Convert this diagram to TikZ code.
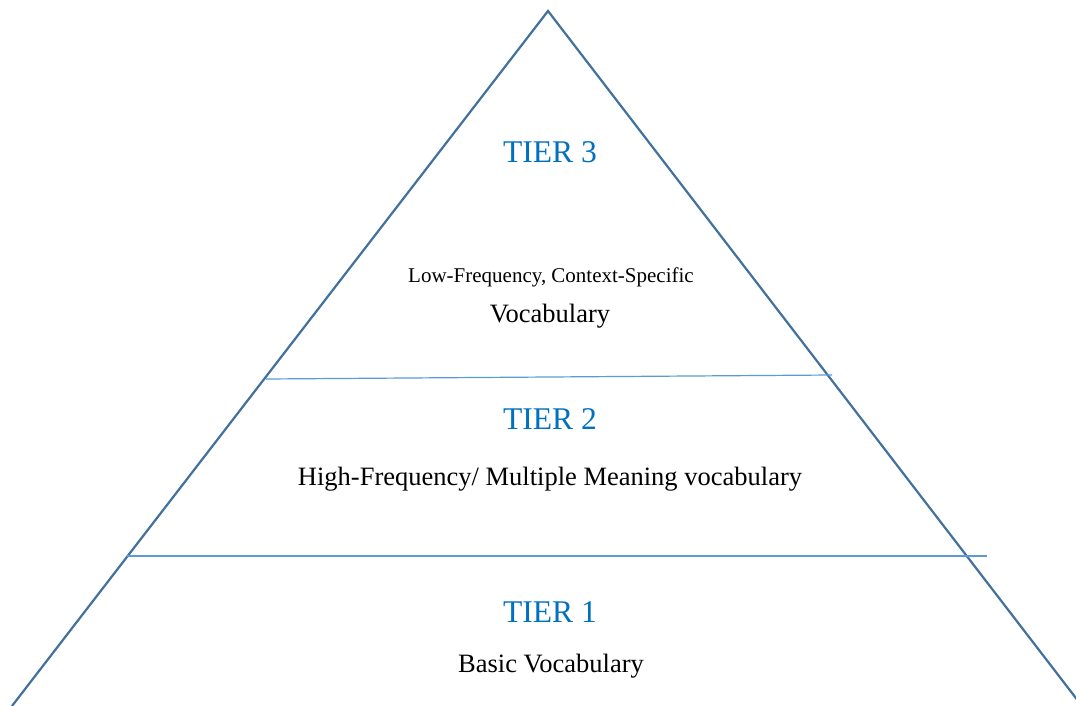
\documentclass[tikz,border=0pt]{standalone}
\usepackage{fontspec}
\setmainfont{Liberation Serif}
\definecolor{pyramidedge}{HTML}{41719C}
\definecolor{tierline}{HTML}{5B9BD5}
\definecolor{tierblue}{HTML}{0070C0}
\begin{document}
\begin{tikzpicture}[x=1pt,y=-1pt,
  edge/.style={draw=pyramidedge, line width=2.2pt, line join=miter},
  divider/.style={draw=tierline, line width=1.2pt},
  tiertitle/.style={anchor=base, text=tierblue, font=\fontsize{31.6}{36}\selectfont, inner sep=0pt},
  tierdesc/.style={anchor=base, text=black, font=\fontsize{26.5}{30}\selectfont, inner sep=0pt},
  tiersmall/.style={anchor=base, text=black, font=\fontsize{21}{25}\selectfont, inner sep=0pt}]
  \useasboundingbox (0,0) rectangle (1076,706);
  \fill[white] (0,0) rectangle (1076,706);
  % pyramid outline
  \coordinate (apex) at (548,11);
  \coordinate (baseL) at (12,706);
  \coordinate (baseR) at (1082,706);
  \draw[edge] (baseL) -- (apex) -- (baseR);
  % tier dividers
  \coordinate (d3L) at (266,379);
  \coordinate (d3R) at (832,375);
  \coordinate (d2L) at (127,556);
  \coordinate (d2R) at (987,556);
  \draw[divider] (d3L) -- (d3R);
  \draw[divider] (d2L) -- (d2R);
  % labels
  \node[tiertitle] (t3) at (550,162) {TIER 3};
  \node[tiersmall] (t3a) at (551,282) {Low-Frequency, Context-Specific};
  \node[tierdesc] (t3b) at (550,322) {Vocabulary};
  \node[tiertitle] (t2) at (550,429) {TIER 2};
  \node[tierdesc] (t2a) at (550,485) {High-Frequency/ Multiple Meaning vocabulary};
  \node[tiertitle] (t1) at (550,622) {TIER 1};
  \node[tierdesc] (t1a) at (551,672) {Basic Vocabulary};
\end{tikzpicture}
\end{document}
